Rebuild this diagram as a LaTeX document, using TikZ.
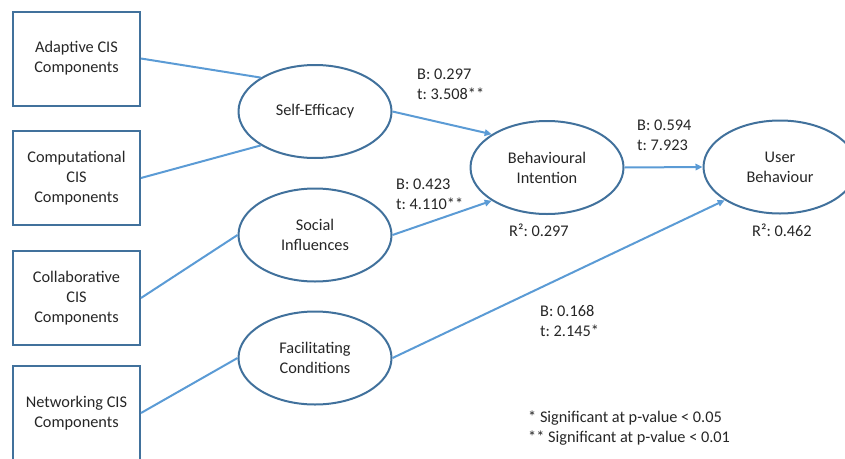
\documentclass[tikz,border=0pt]{standalone}
\usepackage{fontspec}
\setmainfont{Carlito}
\usetikzlibrary{shapes.geometric,arrows.meta}
\definecolor{edgeblue}{HTML}{41719C}
\definecolor{lineblue}{HTML}{5B9BD5}
\definecolor{txt}{HTML}{262626}
\begin{document}
\frenchspacing
\begin{tikzpicture}[x=1pt,y=-1pt,
  every node/.style={font=\fontsize{16.3}{20}\selectfont\frenchspacing,text=txt},
  cisbox/.style={draw=edgeblue,line width=2pt,minimum width=127pt,minimum height=94pt,align=center,inner sep=0pt},
  construct/.style={ellipse,draw=edgeblue,line width=2pt,minimum width=153pt,minimum height=93pt,align=center,inner sep=0pt},
  link/.style={draw=lineblue,line width=2pt},
  path/.style={link,-{Triangle[length=7pt,width=6.5pt]}},
  lbl/.style={anchor=west,align=left,inner sep=0pt}]
\useasboundingbox (0,0) rectangle (845,458);
\begin{scope}
\clip (0,0) rectangle (845,458);
\node[cisbox] (b1) at (76.5,58.5) {Adaptive CIS\\Components};
\node[cisbox] (b2) at (76.5,178) {Computational\\CIS\\Components};
\node[cisbox] (b3) at (76.5,298) {Collaborative\\CIS\\Components};
\node[cisbox] (b4) at (76.5,413) {Networking CIS\\Components};

\node[construct] (se) at (315,111.5) {Self-Efficacy};
\node[construct] (si) at (315,235) {Social\\Influences};
\node[construct] (fc) at (315,358) {Facilitating\\Conditions};
\node[construct] (bi) at (547,167.5) {Behavioural\\Intention};
\node[construct] (ub) at (780,167) {User\\Behaviour};

\draw[link] (b1.east) -- (se.148);
\draw[link] (b2.east) -- (se.212);
\draw[link] (b3.east) -- (si.west);
\draw[link] (b4.east) -- (fc.west);

\draw[path] (se.east) -- (bi.149);
\draw[path] (si.east) -- (bi.211);
\draw[path] (bi.east) -- (ub.west);
\draw[path] (fc.east) -- (ub.211);
\end{scope}

\node[lbl] (l1) at (417,84.5) {B: 0.297\\t: 3.508**};
\node[lbl] (l2) at (396,194) {B: 0.423\\t: 4.110**};
\node[lbl] (l3) at (637,135) {B: 0.594\\t: 7.923};
\node[lbl] (r1) at (509,230) {R²: 0.297};
\node[lbl] (r2) at (752,230) {R²: 0.462};
\node[lbl] (l4) at (540,321) {B: 0.168\\t: 2.145*};
\node[lbl] (fn) at (528,427.7) {* Significant at p-value < 0.05\\** Significant at p-value < 0.01};
\end{tikzpicture}
\end{document}
